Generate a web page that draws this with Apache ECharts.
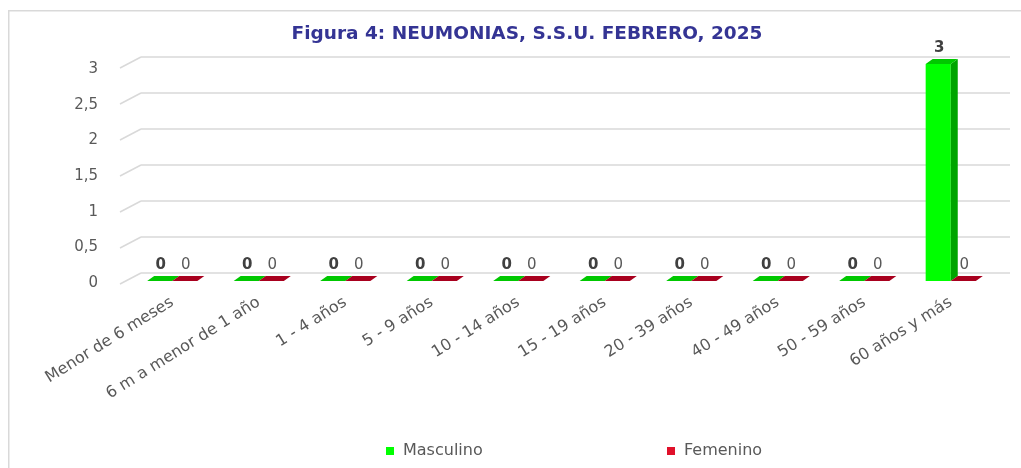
<!DOCTYPE html>
<html>
<head>
<meta charset="utf-8">
<script src="https://cdn.jsdelivr.net/npm/echarts@6/dist/echarts.min.js"></script>
<style>
  html, body { margin: 0; padding: 0; background: #fff; }
  #grafico { width: 1021px; height: 468px; }
</style>
</head>
<body>
<div id="grafico"></div>
<script>
// datos de la figura
const categorias = ['Menor de 6 meses', '6 m a menor de 1 año', '1 - 4 años', '5 - 9 años', '10 - 14 años',
    '15 - 19 años', '20 - 39 años', '40 - 49 años', '50 - 59 años', '60 años y más'];
const masculino = [0, 0, 0, 0, 0, 0, 0, 0, 0, 3];
const femenino = [0, 0, 0, 0, 0, 0, 0, 0, 0, 0];
const ticksY = [0, 0.5, 1, 1.5, 2, 2.5, 3];

const FUENTE = 'DejaVu Sans';
const DX = 7, DY = -5; // profundidad de las barras

/**
 * barra con efecto 3D
 * @param {number} lado 0 = izquierda del grupo, 1 = derecha
 */
const barra3d = (lado, colores, etiqueta) => (params, api) => {
    const cat = api.value(0);
    const v = api.value(1);
    const base = api.coord([cat, 0]);
    const tope = api.coord([cat, v]);
    const w = api.size([1, 0])[0] * 0.29;
    const x0 = lado === 0 ? base[0] - w : base[0];
    const x1 = x0 + w;
    const yT = tope[1], yB = base[1];
    const hijos = [];
    if (v > 0) {
        hijos.push({ type: 'rect', shape: { x: x0, y: yT, width: w, height: yB - yT }, style: { fill: colores.frente } });
        hijos.push({ type: 'polygon', shape: { points: [[x1, yT], [x1 + DX, yT + DY], [x1 + DX, yB + DY], [x1, yB]] }, style: { fill: colores.lado } });
    }
    hijos.push({ type: 'polygon', shape: { points: [[x0, yT], [x0 + DX, yT + DY], [x1 + DX, yT + DY], [x1, yT]] }, style: { fill: colores.tapa } });
    hijos.push({
        type: 'text',
        style: {
            text: String(v), x: (x0 + x1) / 2 + 1, y: yT - 8, align: 'center', verticalAlign: 'bottom',
            fill: etiqueta.color, font: etiqueta.font
        }
    });
    return { type: 'group', children: hijos };
};

const grafico = echarts.init(document.getElementById('grafico'));

const leyenda = (nombre, izq) => ({
    left: izq, top: 443, padding: 0, itemWidth: 8, itemHeight: 8, icon: 'rect',
    textStyle: { fontFamily: FUENTE, fontSize: 16, color: '#595959', padding: [0, 0, 0, 4] },
    data: [nombre]
});

const opciones = {
    animation: false,
    title: {
        text: 'Figura 4: NEUMONIAS, S.S.U. FEBRERO, 2025',
        left: 522, top: 20, textAlign: 'center',
        textStyle: { fontFamily: FUENTE, fontWeight: 'bold', fontSize: 18.5, color: '#343494' }
    },
    graphic: [{
        type: 'rect', left: 8, top: 10, silent: true, z: -10,
        shape: { width: 1030, height: 480 },
        style: { fill: '#fff', stroke: '#d9d9d9', lineWidth: 1.5 }
    }],
    legend: [leyenda('Masculino', 386), leyenda('Femenino', 667)],
    grid: [
        { left: 129, right: 27, top: 64, bottom: 187 },   // barras
        { left: 141, right: 11, top: 57, bottom: 195 },   // pared del fondo
        { left: 129, right: 27, top: 69, bottom: 185 }    // etiquetas del eje y
    ],
    xAxis: [
        {
            type: 'category', gridIndex: 0, data: categorias,
            axisLine: { show: false }, axisTick: { show: false },
            axisLabel: { interval: 0, rotate: 32, margin: 20, fontFamily: FUENTE, fontSize: 16, color: '#595959' }
        },
        { type: 'value', gridIndex: 1, min: 0, max: 1, show: false },
        { type: 'value', gridIndex: 2, min: 0, max: 1, show: false }
    ],
    yAxis: [
        {
            type: 'value', gridIndex: 0, min: 0, max: 3, interval: 0.5, show: false
        },
        {
            type: 'value', gridIndex: 1, min: 0, max: 3, interval: 0.5,
            axisLine: { show: false }, axisTick: { show: false }, axisLabel: { show: false },
            splitLine: { lineStyle: { color: '#d9d9d9', width: 1.5 } }
        },
        {
            type: 'value', gridIndex: 2, min: 0, max: 3, interval: 0.5,
            axisLine: { show: false }, axisTick: { show: false }, splitLine: { show: false },
            axisLabel: {
                margin: 31, fontFamily: FUENTE, fontSize: 15, color: '#595959',
                formatter: (v) => String(v).replace('.', ',')
            }
        }
    ],
    series: [
        {
            name: 'diagonales', type: 'custom', xAxisIndex: 1, yAxisIndex: 1, silent: true,
            data: ticksY.map((v) => [0, v]),
            renderItem: (params, api) => {
                const p = api.coord([api.value(0), api.value(1)]);
                return {
                    type: 'line',
                    shape: { x1: p[0] - 21, y1: p[1] + 11, x2: p[0], y2: p[1] },
                    style: { stroke: '#d9d9d9', lineWidth: 1.5 }
                };
            }
        },
        {
            name: 'Masculino', type: 'custom', xAxisIndex: 0, yAxisIndex: 0,
            itemStyle: { color: '#00ff00' },
            data: masculino.map((v, i) => [i, v]),
            renderItem: barra3d(0, { frente: '#00ff00', lado: '#00a400', tapa: '#00c800' },
                { color: '#404040', font: 'bold 15px "DejaVu Sans"' })
        },
        {
            name: 'Femenino', type: 'custom', xAxisIndex: 0, yAxisIndex: 0,
            itemStyle: { color: '#e0102a' },
            data: femenino.map((v, i) => [i, v]),
            renderItem: barra3d(1, { frente: '#e0102a', lado: '#8c0018', tapa: '#a8001e' },
                { color: '#595959', font: '15px "DejaVu Sans"' })
        }
    ]
};

grafico.setOption(opciones);
</script>
</body>
</html>
